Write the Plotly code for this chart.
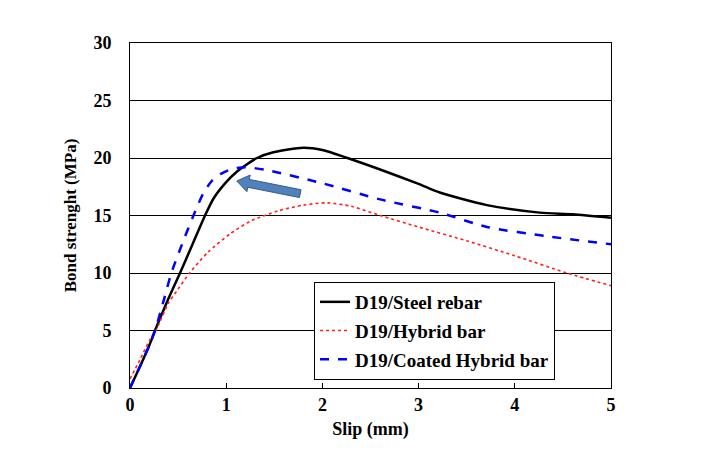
import plotly.graph_objects as go
import numpy as np

steel_x = [0, 0.1, 0.2, 0.26, 0.38, 0.52, 0.65, 0.78, 0.87, 1.0, 1.11, 1.19, 1.32, 1.49, 1.8, 2.0, 2.26, 2.6, 3.0, 3.22, 3.71, 4.26, 4.6, 5.0]
steel_y = [0, 1.8, 3.7, 5.0, 7.4, 10.0, 12.5, 15.0, 16.5, 17.9, 18.8, 19.3, 20.0, 20.5, 20.9, 20.7, 20.0, 19.0, 17.75, 17.0, 15.9, 15.25, 15.1, 14.8]

hybrid_x = [0, 0.1, 0.2, 0.27, 0.4, 0.5, 0.62, 0.81, 1.04, 1.25, 1.54, 1.8, 2.05, 2.3, 2.6, 3.0, 3.5, 4.0, 4.54, 5.0]
hybrid_y = [0.8, 2.4, 4.1, 5.0, 7.4, 8.6, 10.0, 11.8, 13.4, 14.5, 15.4, 15.9, 16.1, 15.8, 15.0, 14.0, 12.8, 11.5, 10.0, 8.9]

coated_x = [0, 0.1, 0.2, 0.26, 0.35, 0.43, 0.55, 0.66, 0.76, 0.85, 0.94, 1.06, 1.2, 1.42, 2.0, 2.6, 3.22, 3.71, 4.33, 5.0]
coated_y = [0, 1.8, 3.7, 5.0, 7.6, 10.0, 12.7, 15.0, 16.9, 18.0, 18.6, 19.05, 19.2, 18.95, 17.8, 16.4, 15.25, 14.0, 13.2, 12.5]

names = ["D19/Steel rebar", "D19/Hybrid bar", "D19/Coated Hybrid bar"]
x_ticks = [0, 1, 2, 3, 4, 5]
y_ticks = [0, 5, 10, 15, 20, 25, 30]

# arrow (tail -> tip) in data units
arrow_tail = (1.77, 16.9)
arrow_tip = (1.11, 18.0)

FONT = "Times New Roman, Liberation Serif, serif"
W, H = 704, 447
ml, mr, mt, mb = 122, 101, 35, 67
pw, ph = W - ml - mr, H - mt - mb
xr, yr = [0, 5], [0, 30]

fig = go.Figure()
fig.add_trace(go.Scatter(x=steel_x, y=steel_y, mode="lines", name=names[0],
                         line=dict(color="black", width=2.5, shape="spline", smoothing=0.7)))
fig.add_trace(go.Scatter(x=hybrid_x, y=hybrid_y, mode="lines", name=names[1],
                         line=dict(color="#ff2020", width=1.6, dash="dot", shape="spline", smoothing=0.7)))
fig.add_trace(go.Scatter(x=coated_x, y=coated_y, mode="lines", name=names[2],
                         line=dict(color="#0000ff", width=2.5, dash="dash", shape="spline", smoothing=0.7)))

# fat block arrow built in pixel space and converted to data units
def to_px(p):
    return ((p[0] - xr[0]) / (xr[1] - xr[0]) * pw, (p[1] - yr[0]) / (yr[1] - yr[0]) * ph)
def to_data(q):
    return (q[0] / pw * (xr[1] - xr[0]) + xr[0], q[1] / ph * (yr[1] - yr[0]) + yr[0])
t = np.array(to_px(arrow_tail)); h = np.array(to_px(arrow_tip))
d = h - t; L = np.linalg.norm(d); u = d / L; n = np.array([-u[1], u[0]])
hw, headw, headl = 4.0, 8.5, 12.0
base = h - u * headl
pts = [t + n * hw, base + n * hw, base + n * headw, h, base - n * headw, base - n * hw, t - n * hw]
pts = [to_data(p) for p in pts]
path = "M " + " L ".join(f"{p[0]:.4f},{p[1]:.4f}" for p in pts) + " Z"
fig.add_shape(type="path", path=path, xref="x", yref="y",
              fillcolor="#4F81BD", line=dict(color="#385D8A", width=1))

fig.update_layout(
    width=W, height=H,
    margin=dict(l=ml, r=mr, t=mt, b=mb),
    paper_bgcolor="white", plot_bgcolor="white",
    font=dict(family=FONT, color="black"),
    showlegend=True,
    legend=dict(x=(314 - 130) / pw, y=(388 - 282) / ph, xanchor="left", yanchor="top",
                bgcolor="white", bordercolor="black", borderwidth=1,
                font=dict(family=FONT, size=19, color="black", weight="bold"),
                tracegroupgap=1, itemwidth=30),
    xaxis=dict(range=xr, tickvals=x_ticks, showgrid=False, zeroline=False,
               showline=True, linecolor="black", linewidth=1, mirror=True,
               ticks="inside", ticklen=5, tickcolor="black",
               tickfont=dict(family=FONT, size=18, weight="bold"),
               title=dict(text="<b>Slip (mm)</b>", font=dict(family=FONT, size=18), standoff=8)),
    yaxis=dict(range=yr, tickvals=y_ticks, showgrid=True, gridcolor="black", gridwidth=1,
               zeroline=False, showline=True, linecolor="black", linewidth=1, mirror=True,
               ticks="", ticklabelstandoff=14,
               tickfont=dict(family=FONT, size=18, weight="bold"),
               title=dict(text="<b>Bond strenght (MPa)</b>", font=dict(family=FONT, size=17), standoff=12)),
)
for i, tr in enumerate(fig.data):
    tr.legendgroup = f"g{i}"

fig.write_html("out.html")
